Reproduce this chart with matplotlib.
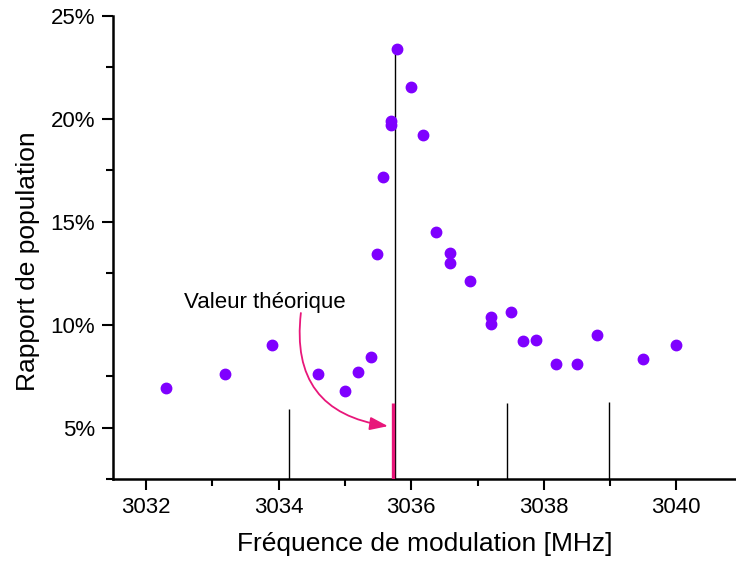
import matplotlib.pyplot as plt
import matplotlib.ticker as mticker
from matplotlib.patches import FancyArrowPatch

plt.rcParams['font.family'] = ['Liberation Sans', 'DejaVu Sans']

# Measured points: modulation frequency [MHz] vs population ratio [%]
freq = [3032.30, 3033.19, 3033.90, 3034.60, 3035.00, 3035.20, 3035.40,
        3035.49, 3035.58, 3035.69, 3035.70, 3035.79, 3035.99, 3036.18,
        3036.38, 3036.59, 3036.59, 3036.89, 3037.20, 3037.20, 3037.50,
        3037.69, 3037.89, 3038.19, 3038.50, 3038.80, 3039.49, 3039.99]
ratio = [6.9, 7.6, 9.0, 7.6, 6.8, 7.7, 8.45,
         13.45, 17.2, 19.9, 19.7, 23.4, 21.55, 19.2,
         14.5, 13.5, 13.0, 12.1, 10.35, 10.05, 10.6,
         9.2, 9.25, 8.1, 8.1, 9.5, 8.35, 9.0]

# Vertical markers (stick lines)
peak_freq = 3035.76
peak_top = 23.4
stick_freq = [3034.16, 3037.44, 3038.99]
stick_top = [5.9, 6.2, 6.25]
theo_freq = 3035.73
theo_top = 6.17

# Annotation arrow ends (data units)
arrow_start = (3034.34, 10.7)
arrow_end = (3035.69, 5.05)

pink = "#e8177a"
violet = "#7f00ff"

fig = plt.figure(figsize=(7.36, 5.62), dpi=100)
ax = fig.add_axes([0.1535, 0.1477, 0.8465, 0.8238])

ax.set_xlim(3031.5, 3040.9)
ax.set_ylim(2.5, 25)

# vertical lines
ax.vlines(peak_freq, 2.5, peak_top, color="black", lw=1.0, zorder=2)
ax.vlines(stick_freq, 2.5, stick_top, color="black", lw=1.0, zorder=2)
ax.vlines(theo_freq, 2.5, theo_top, color=pink, lw=2.4, zorder=3)

# data points
ax.plot(freq, ratio, 'o', color=violet, ms=7.5, mec=violet, zorder=4)

# annotation
ax.text(3033.79, 10.83, "Valeur théorique", fontsize=16, ha="center", va="baseline")
arrow = FancyArrowPatch(arrow_start, arrow_end, connectionstyle="arc3,rad=0.5",
                        arrowstyle="-|>,head_length=0.55,head_width=0.2",
                        mutation_scale=20, color=pink, lw=1.3, zorder=3)
ax.add_patch(arrow)

# spines
ax.spines['top'].set_visible(False)
ax.spines['right'].set_visible(False)
ax.spines['left'].set_linewidth(1.8)
ax.spines['bottom'].set_linewidth(1.8)

# ticks
ax.xaxis.set_major_locator(mticker.MultipleLocator(2))
ax.xaxis.set_minor_locator(mticker.MultipleLocator(1))
ax.yaxis.set_major_locator(mticker.MultipleLocator(5))
ax.yaxis.set_minor_locator(mticker.MultipleLocator(2.5))
ax.yaxis.set_major_formatter(mticker.FuncFormatter(lambda v, p: f"{v:.0f}%"))
ax.xaxis.set_major_formatter(mticker.FuncFormatter(lambda v, p: f"{v:.0f}"))
ax.tick_params(which='major', direction='out', length=8, width=1.5,
               labelsize=16, pad=5, colors='black')
ax.tick_params(which='minor', direction='out', length=5, width=1.5)

ax.set_xlabel("Fréquence de modulation [MHz]", fontsize=19, labelpad=10)
ax.set_ylabel("Rapport de population", fontsize=19)
ax.yaxis.set_label_coords(-0.117, 0.471)

fig.savefig("out.png", dpi=100)
